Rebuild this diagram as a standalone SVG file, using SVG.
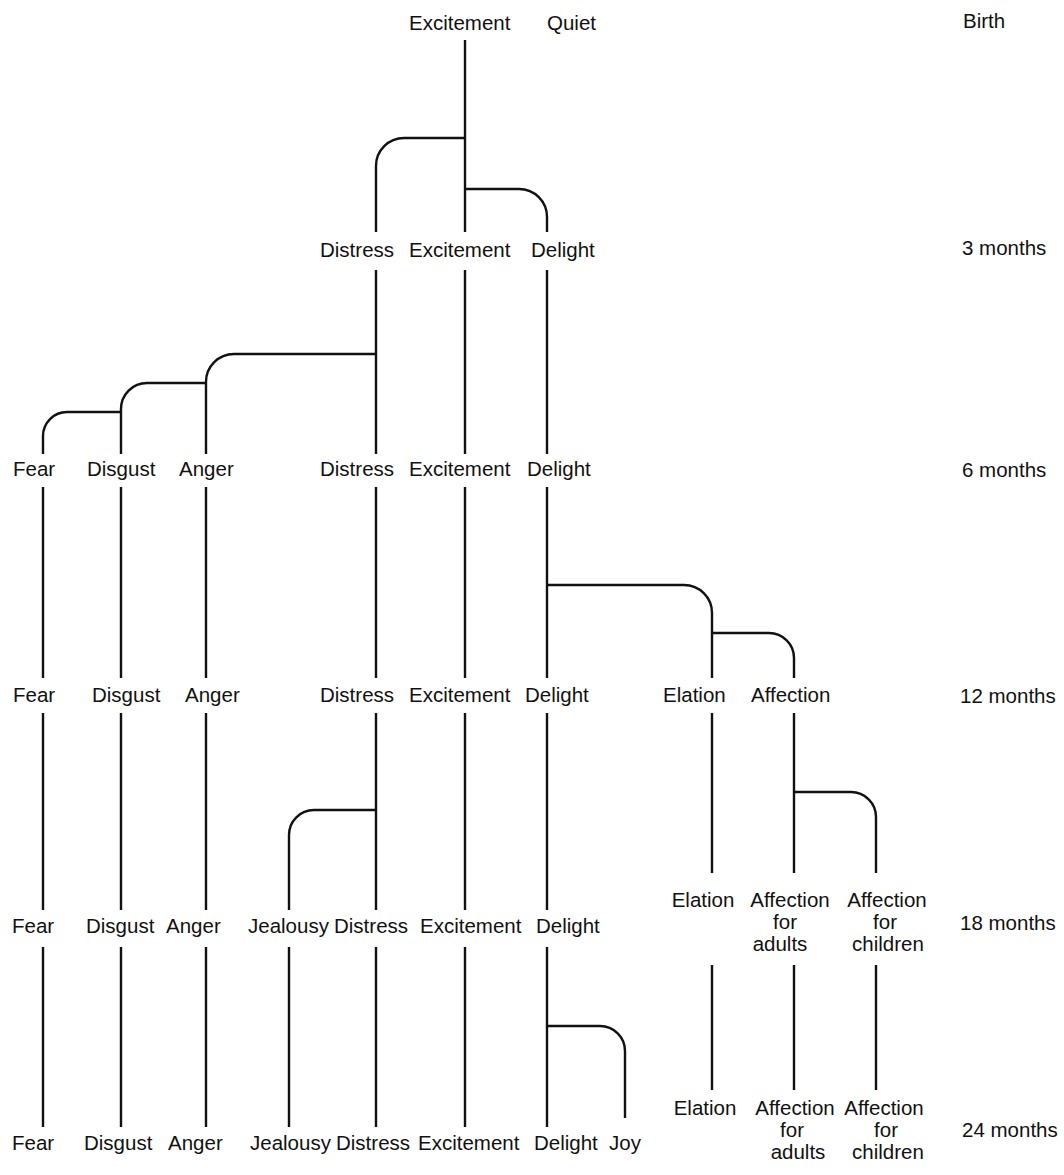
<svg xmlns="http://www.w3.org/2000/svg" width="1064" height="1175" viewBox="0 0 1064 1175">
<style>
text{font-family:"Liberation Sans","Open Sans",sans-serif;font-size:20.5px;fill:#111}
.c{text-anchor:middle}
#connectors path{fill:none;stroke:#111;stroke-width:2.4}
</style>
<rect width="1064" height="1175" fill="#fff"/>
<g id="connectors">
<path d="M465,40 V232"/>
<path d="M465,138 H404 A28,28 0 0 0 376,166 V232"/>
<path d="M465,189 H519 A28,28 0 0 1 547,217 V232"/>
<path d="M376,270 V454 M465,270 V454 M547,270 V454"/>
<path d="M376,354 H234 A28,28 0 0 0 206,382 V454"/>
<path d="M206,383 H147 A26,26 0 0 0 121,409 V454"/>
<path d="M121,412 H67 A24,24 0 0 0 43,436 V454"/>
<path d="M43,487 V678 M121,487 V678 M206,487 V678 M376,487 V678 M465,487 V678 M547,487 V678"/>
<path d="M547,585 H684 A28,28 0 0 1 712,613 V678"/>
<path d="M712,633 H769 A25,25 0 0 1 794,658 V678"/>
<path d="M43,713 V910 M121,713 V910 M206,713 V910 M376,713 V910 M465,713 V910 M547,713 V910"/>
<path d="M376,810 H314 A25,25 0 0 0 289,835 V910"/>
<path d="M712,713 V873 M794,713 V873"/>
<path d="M794,792 H851 A25,25 0 0 1 876,817 V873"/>
<path d="M43,947 V1127 M121,947 V1127 M206,947 V1127 M289,947 V1127 M376,947 V1127 M465,947 V1127 M547,947 V1127"/>
<path d="M547,1026 H600 A25,25 0 0 1 625,1051 V1118"/>
<path d="M712,965 V1090 M794,965 V1090 M876,965 V1090"/>
</g>
<g id="row-birth">
<g id="n-birth-excitement"><text x="409" y="30">Excitement</text></g>
<g id="n-birth-quiet"><text x="547" y="30">Quiet</text></g>
<g id="t-birth"><text x="963" y="28">Birth</text></g>
</g>
<g id="row-3">
<g id="n-3-distress"><text x="320" y="257">Distress</text></g>
<g id="n-3-excitement"><text x="409" y="257">Excitement</text></g>
<g id="n-3-delight"><text x="531" y="257">Delight</text></g>
<g id="t-3"><text x="962" y="255">3 months</text></g>
</g>
<g id="row-6">
<g id="n-6-fear"><text x="13" y="476">Fear</text></g>
<g id="n-6-disgust"><text x="87" y="476">Disgust</text></g>
<g id="n-6-anger"><text x="179" y="476">Anger</text></g>
<g id="n-6-distress"><text x="320" y="476">Distress</text></g>
<g id="n-6-excitement"><text x="409" y="476">Excitement</text></g>
<g id="n-6-delight"><text x="527" y="476">Delight</text></g>
<g id="t-6"><text x="962" y="477">6 months</text></g>
</g>
<g id="row-12">
<g id="n-12-fear"><text x="13" y="702">Fear</text></g>
<g id="n-12-disgust"><text x="92" y="702">Disgust</text></g>
<g id="n-12-anger"><text x="185" y="702">Anger</text></g>
<g id="n-12-distress"><text x="320" y="702">Distress</text></g>
<g id="n-12-excitement"><text x="409" y="702">Excitement</text></g>
<g id="n-12-delight"><text x="525" y="702">Delight</text></g>
<g id="n-12-elation"><text x="663" y="702">Elation</text></g>
<g id="n-12-affection"><text x="751" y="702">Affection</text></g>
<g id="t-12"><text x="960" y="703">12 months</text></g>
</g>
<g id="row-18">
<g id="n-18-fear"><text x="12" y="933">Fear</text></g>
<g id="n-18-disgust"><text x="86" y="933">Disgust</text></g>
<g id="n-18-anger"><text x="166" y="933">Anger</text></g>
<g id="n-18-jealousy"><text x="248" y="933">Jealousy</text></g>
<g id="n-18-distress"><text x="334" y="933">Distress</text></g>
<g id="n-18-excitement"><text x="420" y="933">Excitement</text></g>
<g id="n-18-delight"><text x="536" y="933">Delight</text></g>
<g id="n-18-elation"><text class="c" x="703" y="907">Elation</text></g>
<g id="n-18-aff-adults"><text class="c" x="790" y="907">Affection</text><text class="c" x="785" y="929">for</text><text class="c" x="780" y="951">adults</text></g>
<g id="n-18-aff-children"><text class="c" x="887" y="907">Affection</text><text class="c" x="885" y="929">for</text><text class="c" x="888" y="951">children</text></g>
<g id="t-18"><text x="960" y="930">18 months</text></g>
</g>
<g id="row-24">
<g id="n-24-fear"><text x="12" y="1150">Fear</text></g>
<g id="n-24-disgust"><text x="84" y="1150">Disgust</text></g>
<g id="n-24-anger"><text x="168" y="1150">Anger</text></g>
<g id="n-24-jealousy"><text x="250" y="1150">Jealousy</text></g>
<g id="n-24-distress"><text x="336" y="1150">Distress</text></g>
<g id="n-24-excitement"><text x="418" y="1150">Excitement</text></g>
<g id="n-24-delight"><text x="534" y="1150">Delight</text></g>
<g id="n-24-joy"><text x="609" y="1150">Joy</text></g>
<g id="n-24-elation"><text class="c" x="705" y="1115">Elation</text></g>
<g id="n-24-aff-adults"><text class="c" x="795" y="1115">Affection</text><text class="c" x="792" y="1137">for</text><text class="c" x="798" y="1159">adults</text></g>
<g id="n-24-aff-children"><text class="c" x="884" y="1115">Affection</text><text class="c" x="886" y="1137">for</text><text class="c" x="888" y="1159">children</text></g>
<g id="t-24"><text x="962" y="1137">24 months</text></g>
</g>
</svg>
